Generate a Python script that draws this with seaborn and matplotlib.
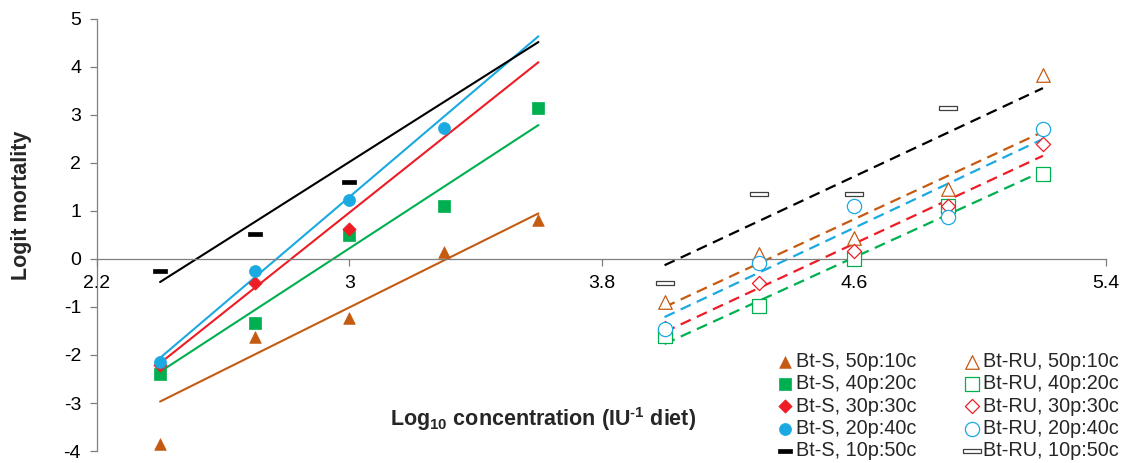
#!/usr/bin/env python3
# logit mortality vs log10 concentration, Bt-S and Bt-RU diets

import numpy as np
import matplotlib
matplotlib.use('Agg')
import matplotlib.pyplot as plt
import seaborn as sns

nan = np.nan

# Data =========================================================================

dose_s = [2.4, 2.7, 3.0, 3.3, 3.6]
dose_ru = [4.0, 4.3, 4.6, 4.9, 5.2]
diets = ['50p:10c', '40p:20c', '30p:30c', '20p:40c', '10p:50c']

s_50p = [-3.85, -1.62, -1.23, 0.15, 0.81]
s_40p = [-2.40, -1.33, 0.50, 1.10, 3.14]
s_30p = [-2.20, -0.50, 0.62, nan, nan]
s_20p = [-2.15, -0.25, 1.22, 2.72, nan]
s_10p = [-0.25, 0.52, 1.61, nan, nan]

ru_50p = [-0.90, 0.10, 0.44, 1.46, 3.83]
ru_40p = [-1.60, -0.98, 0.00, 1.10, 1.77]
ru_30p = [-1.44, -0.51, 0.17, 1.10, 2.40]
ru_20p = [-1.46, -0.08, 1.10, 0.88, 2.71]
ru_10p = [-0.51, 1.35, 1.35, 3.14, nan]

# fitted lines: value at lowest and highest dose
fit_s_lo = [-2.97, -2.35, -2.17, -2.06, -0.48]
fit_s_hi = [0.95, 2.79, 4.10, 4.64, 4.52]
fit_ru_lo = [-1.00, -1.77, -1.52, -1.21, -0.13]
fit_ru_hi = [2.65, 1.83, 2.15, 2.50, 3.56]

xticks = [2.2, 3.0, 3.8, 4.6, 5.4]
xtick_labels = ['2.2', '3', '3.8', '4.6', '5.4']

# Style ========================================================================

colors = ['#C55A11', '#00B050', '#EE1C25', '#1BA9E1', '#000000']
bar = [(-1, -0.3), (1, -0.3), (1, 0.3), (-1, 0.3), (-1, -0.3)]
bar_open = [(-1, -0.22), (1, -0.22), (1, 0.22), (-1, 0.22), (-1, -0.22)]
markers = ['^', 's', 'D', 'o', bar]
markers_open = ['^', 's', 'D', 'o', bar_open]
sizes = [70, 72, 46, 75, 90]
sizes_open = [95, 110, 52, 105, 150]

sns.set_style('ticks')
plt.rcParams['font.family'] = ['Liberation Sans', 'DejaVu Sans']
plt.rcParams['axes.unicode_minus'] = False
plt.rcParams['mathtext.fontset'] = 'custom'
plt.rcParams['mathtext.rm'] = 'Liberation Sans:bold'
plt.rcParams['mathtext.bf'] = 'Liberation Sans:bold'

# Plot =========================================================================

fig = plt.figure(figsize=(11.3, 4.63), dpi=100)
ax = fig.add_axes([97 / 1130, 1 - 451 / 463, 1009 / 1130, 432 / 463])

s_series = [s_50p, s_40p, s_30p, s_20p, s_10p]
ru_series = [ru_50p, ru_40p, ru_30p, ru_20p, ru_10p]

for i in range(5):
    sns.lineplot(x=[dose_s[0], dose_s[-1]], y=[fit_s_lo[i], fit_s_hi[i]],
                 color=colors[i], linewidth=1.5, ax=ax, zorder=2)
    sns.lineplot(x=[dose_ru[0], dose_ru[-1]], y=[fit_ru_lo[i], fit_ru_hi[i]],
                 color=colors[i], linewidth=1.6, linestyle=(0, (5, 3)),
                 ax=ax, zorder=2)

for i in range(5):
    sns.scatterplot(x=dose_s, y=s_series[i], marker=markers[i], s=sizes[i],
                    color=colors[i], edgecolor=colors[i], linewidth=0.5,
                    label='Bt-S, ' + diets[i], ax=ax, zorder=3)
for i in range(5):
    edge = '#404040' if i == 4 else colors[i]
    sns.scatterplot(x=dose_ru, y=ru_series[i], marker=markers_open[i],
                    s=sizes_open[i], facecolor='white', edgecolor=edge,
                    linewidth=0.9, label='Bt-RU, ' + diets[i], ax=ax, zorder=3)

ax.set_xlim(2.2, 5.4)
ax.set_ylim(-4, 5)
ax.set_xticks(xticks)
ax.set_xticklabels(xtick_labels)
ax.set_yticks(range(-4, 6))

for side in ['top', 'right']:
    ax.spines[side].set_visible(False)
ax.spines['bottom'].set_position(('data', 0))
for side in ['left', 'bottom']:
    ax.spines[side].set_color('#7f7f7f')
    ax.spines[side].set_linewidth(0.9)
ax.tick_params(axis='both', colors='#7f7f7f', labelcolor='black',
               labelsize=14, length=5, width=0.9, direction='out')
ax.tick_params(axis='y', pad=6.5)
ax.tick_params(axis='x', pad=6.5)

ax.set_ylabel('Logit mortality', fontsize=15.5, fontweight='bold')
ax.yaxis.set_label_coords(-0.064, 0.569)
ax.set_xlabel(r'Log$_{10}$ concentration (IU$^{\text{-}1}$ diet)',
              fontsize=15.5, fontweight='bold')
ax.xaxis.set_label_coords(0.442, 0.107)

ax.legend(ncol=2, frameon=False, fontsize=14.3, loc='lower right',
          bbox_to_anchor=(1122 / 1130, 0.0), bbox_transform=fig.transFigure,
          handletextpad=0.05, handlelength=1.0, columnspacing=2.3,
          labelspacing=0.16, borderaxespad=0.1, borderpad=0.05,
          scatterpoints=1)

fig.savefig('out.png', dpi=100)
